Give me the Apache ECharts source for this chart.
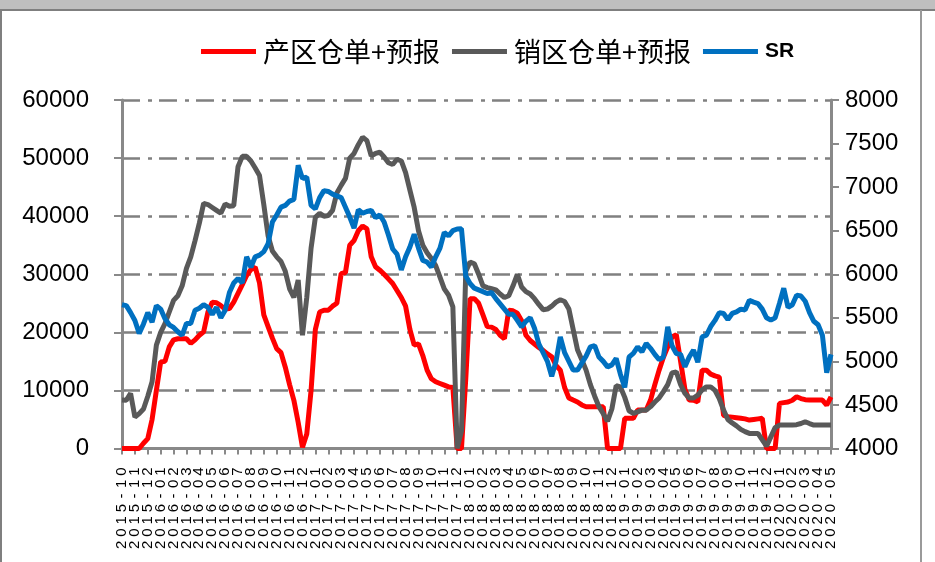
<!DOCTYPE html>
<html>
<head>
<meta charset="utf-8">
<script src="https://cdn.jsdelivr.net/npm/echarts@6/dist/echarts.min.js"></script>
<style>
  html, body { margin: 0; padding: 0; background: #ffffff; }
  #chart { width: 935px; height: 562px; }
</style>
</head>
<body>
<div id="chart"></div>
<script>
// Month tick labels along the bottom axis
const months = [
  '2015-10','2015-11','2015-12',
  '2016-01','2016-02','2016-03','2016-04','2016-05','2016-06','2016-07','2016-08','2016-09','2016-10','2016-11','2016-12',
  '2017-01','2017-02','2017-03','2017-04','2017-05','2017-06','2017-07','2017-08','2017-09','2017-10','2017-11','2017-12',
  '2018-01','2018-02','2018-03','2018-04','2018-05','2018-06','2018-07','2018-08','2018-09','2018-10','2018-11','2018-12',
  '2019-01','2019-02','2019-03','2019-04','2019-05','2019-06','2019-07','2019-08','2019-09','2019-10','2019-11','2019-12',
  '2020-01','2020-02','2020-03','2020-04','2020-05'
];

// Sample days inside each month (the last month only has its first day)
const sampleDays = ['01', '11', '21'];

// 产区仓单+预报 (left axis)
const producingArea = [
  0,0,0,0,0,900,1700,5000,10000,14900,
  15000,17500,18700,18900,18900,18900,18100,18700,19500,20100,
  23500,25200,25100,24600,24000,24100,25200,26700,28200,29800,
  30800,31200,28500,23000,21000,19000,17200,16500,14000,11000,
  8300,4500,200,2500,10000,20500,23500,23800,23800,24500,
  25000,30100,30300,35000,35800,37500,38300,37800,33000,31300,
  30700,30000,29200,28400,27200,26000,24500,20500,17800,18000,
  16000,13500,12000,11500,11200,10900,10600,10500,0,0,
  12000,25800,25800,25000,23000,21000,20900,20500,19500,18900,
  23800,23700,23300,22000,19500,18600,18000,17400,16900,16300,
  15800,14300,13500,10500,8700,8340,8000,7500,7190,7190,
  7190,7190,7190,0,0,0,0,5190,5190,5190,
  6620,6620,6620,8340,11000,13500,15700,17500,19200,19600,
  15000,10200,8340,8300,8000,13490,13490,12800,12500,12300,
  5700,5470,5400,5300,5200,5100,4900,5000,5100,5190,
  0,0,0,7770,7900,8000,8300,8900,8600,8400,
  8340,8340,8340,8340,7480,8900
];

// 销区仓单+预报 (left axis)
const salesArea = [
  8340,8300,9500,5400,6000,6800,9000,11500,17800,20000,
  21500,23500,25500,26300,28000,31000,33000,35800,38800,42200,
  42000,41500,41000,40500,42100,41700,41800,48500,50300,50300,
  49500,48300,47000,42000,36600,34000,33000,32200,30500,27500,
  26000,29000,19500,26000,34500,39800,40500,40000,40100,41000,
  44000,45300,46500,50000,50800,52300,53600,53000,50400,50800,
  51000,50200,49200,48900,49800,49500,47500,44500,41500,37500,
  35000,33700,32700,31500,29500,27500,26400,24400,0,3000,
  30500,32100,31800,30000,28000,27700,27500,27300,26600,26000,
  26300,28000,30000,27800,27000,26600,25800,24800,23900,24000,
  24500,25200,25600,25300,24000,20500,17000,15300,13500,11000,
  9000,7200,6000,4700,6800,10800,10600,8800,6500,6050,
  6300,6600,6600,7200,8000,8700,9800,11000,13000,13200,
  11000,9500,8700,8700,9200,10100,10600,10600,10000,8600,
  6600,5000,4400,3900,3300,2900,2600,2600,2600,1500,
  400,2000,3600,4040,4040,4040,4040,4100,4300,4600,
  4300,4040,4040,4040,4040,4040
];

// SR price (right axis)
const srPrice = [
  5650,5640,5560,5470,5320,5430,5560,5450,5640,5600,
  5490,5420,5390,5340,5300,5435,5435,5587,5610,5650,
  5620,5540,5620,5500,5587,5790,5900,5950,5900,6200,
  6080,6200,6220,6260,6350,6600,6680,6770,6790,6840,
  6860,7250,7100,7115,6790,6750,6880,6960,6950,6920,
  6900,6880,6770,6656,6530,6740,6700,6720,6733,6650,
  6680,6600,6450,6290,6230,6050,6200,6313,6460,6300,
  6160,6140,6083,6200,6300,6480,6440,6500,6520,6523,
  5980,5893,5840,5820,5800,5778,5790,5720,5660,5600,
  5540,5540,5470,5396,5460,5500,5380,5200,5100,5000,
  4830,5000,5281,5100,5000,4900,4900,4980,5060,5166,
  5180,5050,5000,4937,4960,5034,4850,4700,5050,5091,
  5166,5110,5205,5150,5080,5020,5050,5396,5180,5091,
  5080,4937,5050,5129,4990,5281,5300,5400,5470,5560,
  5549,5480,5550,5568,5600,5590,5700,5680,5664,5600,
  5500,5473,5500,5664,5840,5620,5650,5760,5750,5690,
  5560,5460,5420,5300,4870,5080
];

const seriesNames = ['产区仓单+预报', '销区仓单+预报', 'SR'];
const seriesColors = ['#ff0000', '#595959', '#0070c0'];

// Build the dated categories from the month list
const categories = [];
months.forEach(function (m, k) {
  const days = k === months.length - 1 ? ['01'] : sampleDays;
  days.forEach(function (d) { categories.push(m + '-' + d); });
});

const perMonth = sampleDays.length;
const isMonthStart = function (i) { return i % perMonth === 0; };
// Month labels are split over two stacked axes (even / odd months) so that
// the tightly packed vertical labels are never thinned out by the library.
const isEvenMonth = function (i) { return i % (2 * perMonth) === 0; };
const isOddMonth = function (i) { return i % (2 * perMonth) === perMonth; };
const plainNumber = function (v) { return String(v); };

const axisGray = '#898989';
const gridGray = '#808080';

function monthLabel(interval) {
  return {
    interval: interval,
    rotate: 90,
    margin: 17,
    formatter: function (v) {
      return v.slice(0, 7).split('').map(function (c) { return '{c|' + c + '}'; }).join('');
    },
    rich: {
      c: { width: 12.2, align: 'center', fontSize: 15, fontFamily: 'Liberation Sans', color: '#000000' }
    }
  };
}

const chart = echarts.init(document.getElementById('chart'), null, { renderer: 'canvas' });

chart.setOption({
  animation: false,
  backgroundColor: '#ffffff',
  graphic: [
    { type: 'rect', shape: { x: 0, y: 0, width: 935, height: 9 }, style: { fill: '#bfbfbf' }, silent: true },
    { type: 'line', shape: { x1: 0, y1: 10, x2: 935, y2: 10 }, style: { stroke: '#7f7f7f', lineWidth: 2 }, silent: true },
    { type: 'line', shape: { x1: 1, y1: 10, x2: 1, y2: 562 }, style: { stroke: '#7f7f7f', lineWidth: 2 }, silent: true },
    { type: 'line', shape: { x1: 921, y1: 10, x2: 921, y2: 562 }, style: { stroke: '#9a9a9a', lineWidth: 2 }, silent: true }
  ],
  legend: {
    left: 196,
    top: 33,
    icon: 'rect',
    itemWidth: 55,
    itemHeight: 5,
    itemGap: 12,
    textStyle: { fontFamily: 'Noto Sans CJK SC', fontSize: 27, color: '#000000', padding: [0, 0, 0, 2] },
    data: [
      { name: seriesNames[0] },
      { name: seriesNames[1] },
      { name: seriesNames[2], textStyle: { fontFamily: 'Liberation Sans', fontWeight: 'bold', fontSize: 21, color: '#000000', padding: [0, 0, 0, 2] } }
    ]
  },
  grid: { left: 122, right: 104, top: 100, bottom: 113.5, containLabel: false },
  xAxis: [
    {
      type: 'category',
      data: categories,
      boundaryGap: false,
      position: 'bottom',
      axisLine: { lineStyle: { color: axisGray, width: 3 } },
      axisTick: { interval: isMonthStart, length: 6, lineStyle: { color: axisGray, width: 2 } },
      axisLabel: monthLabel(isEvenMonth),
      splitLine: { show: false }
    },
    {
      type: 'category',
      data: categories,
      boundaryGap: false,
      position: 'bottom',
      offset: 0,
      axisLine: { show: false },
      axisTick: { show: false },
      axisLabel: monthLabel(isOddMonth),
      splitLine: { show: false }
    }
  ],
  yAxis: [
    {
      type: 'value',
      position: 'left',
      min: 0,
      max: 60000,
      interval: 10000,
      axisLine: { show: true, lineStyle: { color: axisGray, width: 3 } },
      axisTick: { show: true, length: 8, lineStyle: { color: axisGray, width: 2 } },
      axisLabel: { margin: 33, fontSize: 24, fontFamily: 'Liberation Sans', color: '#000000', formatter: plainNumber },
      splitLine: { show: true, lineStyle: { color: gridGray, width: 2.5, type: [18, 8, 4, 7] } }
    },
    {
      type: 'value',
      position: 'right',
      min: 4000,
      max: 8000,
      interval: 500,
      axisLine: { show: true, lineStyle: { color: axisGray, width: 3 } },
      axisTick: { show: true, length: 8, lineStyle: { color: axisGray, width: 2 } },
      axisLabel: { margin: 14, fontSize: 24, fontFamily: 'Liberation Sans', color: '#000000', formatter: plainNumber },
      splitLine: { show: false }
    }
  ],
  series: [
    {
      name: seriesNames[0], type: 'line', xAxisIndex: 0, yAxisIndex: 0, data: producingArea,
      symbol: 'none', lineStyle: { color: seriesColors[0], width: 5 }, itemStyle: { color: seriesColors[0] }
    },
    {
      name: seriesNames[1], type: 'line', xAxisIndex: 0, yAxisIndex: 0, data: salesArea,
      symbol: 'none', lineStyle: { color: seriesColors[1], width: 5 }, itemStyle: { color: seriesColors[1] }
    },
    {
      name: seriesNames[2], type: 'line', xAxisIndex: 0, yAxisIndex: 1, data: srPrice,
      symbol: 'none', lineStyle: { color: seriesColors[2], width: 5 }, itemStyle: { color: seriesColors[2] }
    }
  ]
});
</script>
</body>
</html>
